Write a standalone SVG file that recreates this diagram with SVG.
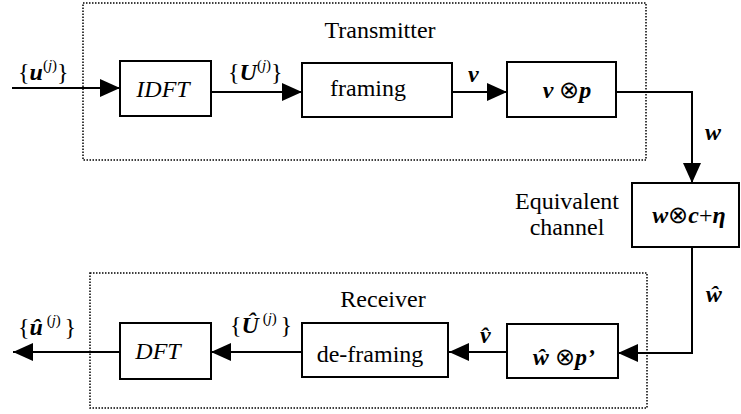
<svg xmlns="http://www.w3.org/2000/svg" width="741" height="414" viewBox="0 0 741 414">
<style>
text{font-family:"Liberation Serif","Times New Roman",serif;font-size:24px;fill:#000}
.m{text-anchor:middle}
.bi{font-weight:bold;font-style:italic}
.it{font-style:italic}
.sup{font-size:15px}
.box{fill:#fff;stroke:#000;stroke-width:2}
.dot{fill:none;stroke:#000;stroke-width:1.5;stroke-dasharray:1.5 1.5}
.c{fill:none;stroke:#000;stroke-width:2}
</style>
<defs>
<marker id="ah" markerUnits="userSpaceOnUse" markerWidth="20" markerHeight="18" refX="20" refY="9" orient="auto" viewBox="0 0 20 18">
<path d="M0,0 L20,9 L0,18 Z" fill="#000"/>
</marker>
</defs>
<g id="transmitter">
<rect class="dot" x="83" y="3" width="563" height="157"/>
<text class="m" x="380" y="38">Transmitter</text>
</g>
<g id="receiver">
<rect class="dot" x="90" y="273" width="557" height="135"/>
<text class="m" x="383" y="307">Receiver</text>
</g>
<g id="connectors">
<path class="c" d="M12,88 H120" marker-end="url(#ah)"/>
<path class="c" d="M211,92 H302" marker-end="url(#ah)"/>
<path class="c" d="M452,92 H507" marker-end="url(#ah)"/>
<path class="c" d="M616,92 H692 V183" marker-end="url(#ah)"/>
<path class="c" d="M692,247 V353 H618" marker-end="url(#ah)"/>
<path class="c" d="M507,352 H449" marker-end="url(#ah)"/>
<path class="c" d="M302,352 H211" marker-end="url(#ah)"/>
<path class="c" d="M120,352 H13" marker-end="url(#ah)"/>
<text x="18" y="80">{<tspan class="bi">u</tspan><tspan class="sup" dy="-10">(<tspan class="it">j</tspan>)</tspan><tspan dy="10">}</tspan></text>
<text x="228" y="80">{<tspan class="bi">U</tspan><tspan class="sup" dy="-10">(<tspan class="it">j</tspan>)</tspan><tspan dy="10">}</tspan></text>
<text class="bi" x="468" y="82">v</text>
<text class="bi" x="705" y="140">w</text>
<text class="bi" x="706" y="302">ŵ</text>
<text class="bi" x="480" y="343">v̂</text>
<text x="230" y="333">{<tspan class="bi">Û</tspan><tspan class="sup" dy="-10"> (<tspan class="it">j</tspan>) </tspan><tspan dy="10">}</tspan></text>
<text x="18" y="335">{<tspan class="bi">û</tspan><tspan class="sup" dy="-10"> (<tspan class="it">j</tspan>) </tspan><tspan dy="10">}</tspan></text>
</g>
<g id="idft">
<rect class="box" x="120" y="61" width="91" height="55"/>
<text class="m it" x="163" y="97">IDFT</text>
</g>
<g id="framing">
<rect class="box" x="302" y="63" width="150" height="54"/>
<text class="m" x="368" y="96">framing</text>
</g>
<g id="modulate">
<rect class="box" x="507" y="62" width="109" height="55"/>
<text class="m" x="567" y="98"><tspan class="bi">v</tspan> ⊗<tspan class="bi">p</tspan></text>
</g>
<g id="channel">
<rect class="box" x="632" y="183" width="107" height="64"/>
<text class="m" x="689" y="223"><tspan class="bi">w</tspan>⊗<tspan class="bi">c</tspan>+<tspan class="bi">η</tspan></text>
<text class="m" x="567" y="209">Equivalent</text>
<text class="m" x="567" y="235">channel</text>
</g>
<g id="demodulate">
<rect class="box" x="507" y="324" width="111" height="54"/>
<text class="m" x="564" y="365"><tspan class="bi">ŵ</tspan>  ⊗<tspan class="bi">p’</tspan></text>
</g>
<g id="deframing">
<rect class="box" x="302" y="323" width="146" height="54"/>
<text class="m" x="370" y="362">de-framing</text>
</g>
<g id="dft">
<rect class="box" x="120" y="323" width="91" height="56"/>
<text class="m it" x="158" y="359">DFT</text>
</g>
</svg>
